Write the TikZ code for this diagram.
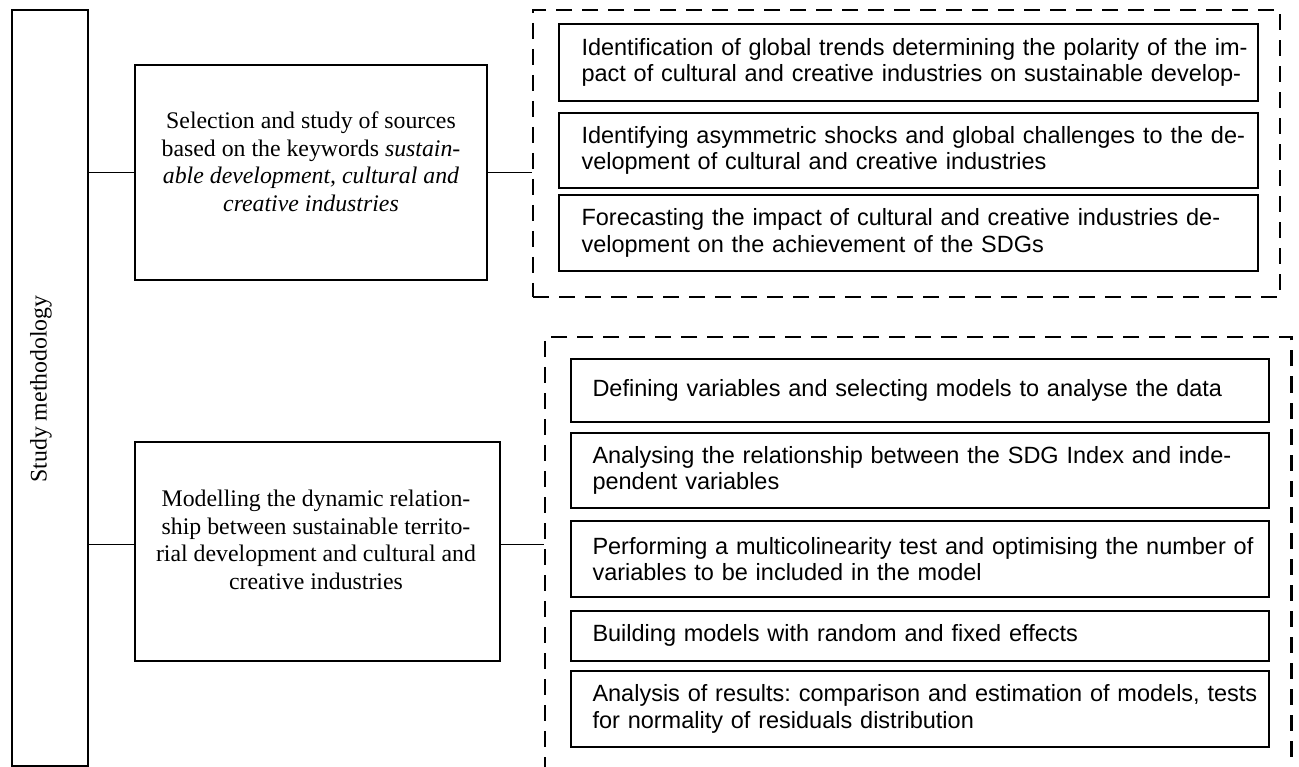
\documentclass[tikz,border=0pt]{standalone}
\usepackage{fontspec}
\setmainfont{Liberation Serif}
\newfontfamily\boxsans{Liberation Sans}
\newcommand{\fullline}[1]{\makebox[\hsize][s]{#1}}
\frenchspacing
\begin{document}
\begin{tikzpicture}[x=1pt,y=-1pt,
  solidbox/.style={draw=black, line width=2pt, inner sep=0pt},
  groupbox/.style={draw=black, line width=2.2pt, dash pattern=on 16pt off 10pt, inner sep=0pt},
  stepbox/.style={solidbox, font=\boxsans\fontsize{23.5}{26.8}\selectfont,
    text width=654pt, inner xsep=22.5pt, inner ysep=0pt, align=left, minimum width=699pt},
  serifbody/.style={font=\fontsize{23.8}{27.5}\selectfont, align=center, inner sep=0pt},
  link/.style={draw=black, line width=1pt}]
\useasboundingbox (0,0) rectangle (1299,767);
\clip (0,0) rectangle (1299,767);

% left column
\node[solidbox, line width=2.3pt, minimum width=76pt, minimum height=756pt] (meth) at (50,388) {};
\node[inner sep=0pt, font=\fontsize{23.8}{27}\selectfont, rotate=90] (methlabel) at (41,389) {Study methodology};

% the two main stages
\node[solidbox, minimum width=352.5pt, minimum height=215pt] (b1) at (311,172.5) {};
\node[serifbody] (b1text) at (311,162) {Selection and study of sources\\
  based on the keywords \textit{sustain-}\\
  \textit{able development, cultural and}\\
  \textit{creative industries}};

\node[solidbox, minimum width=365pt, minimum height=219pt] (b2) at (317.5,551.5) {};
\node[serifbody] (b2text) at (316,540) {Modelling the dynamic relation-\\
  ship between sustainable territo-\\
  rial development and cultural and\\
  creative industries};

% dashed groups
\node[groupbox, minimum width=747pt, minimum height=287pt] (g1) at (906.5,153.5) {};
\node[groupbox, minimum width=746.5pt, minimum height=453pt] (g2) at (918.25,563.5) {};

% first group of tasks
\node[stepbox, minimum height=77pt] (t1) at (908.5,62.5) {%
  \fullline{Identification of global trends determining the polarity of the im-}\\
  \fullline{pact of cultural and creative industries on sustainable develop-}};
\node[stepbox, minimum height=75pt] (t2) at (908.5,150.5) {%
  \fullline{Identifying asymmetric shocks and global challenges to the de-}\\
  velopment of cultural and creative industries};
\node[stepbox, minimum height=76pt] (t3) at (908.5,233) {%
  \fullline{Forecasting the impact of cultural and creative industries de-}\\
  velopment on the achievement of the SDGs};

% second group of tasks
\tikzset{lowstep/.style={stepbox, text width=655pt, inner xsep=21.5pt, minimum width=698pt}}
\node[lowstep, minimum height=63pt] (s1) at (920,390.5) {%
  Defining variables and selecting models to analyse the data};
\node[lowstep, minimum height=75pt] (s2) at (920,470.5) {%
  \fullline{Analysing the relationship between the SDG Index and inde-}\\
  pendent variables};
\node[lowstep, minimum height=76pt] (s3) at (920,559) {%
  \fullline{Performing a multicolinearity test and optimising the number of}\\
  variables to be included in the model};
\node[lowstep, minimum height=49.5pt] (s4) at (920,635.75) {%
  Building models with random and fixed effects};
\node[lowstep, minimum height=75.5pt] (s5) at (920,708.75) {%
  \fullline{Analysis of results: comparison and estimation of models, tests}\\
  for normality of residuals distribution};

% connectors
\draw[link] (meth.east |- b1.west) -- (b1.west);
\draw[link] (b1.east) -- (b1.east -| g1.west);
\coordinate (b2l) at ([yshift=7.5pt]b2.west);
\coordinate (b2r) at ([yshift=7.5pt]b2.east);
\draw[link] (meth.east |- b2l) -- (b2l);
\draw[link] (b2r) -- (b2r -| g2.west);
\end{tikzpicture}
\end{document}
